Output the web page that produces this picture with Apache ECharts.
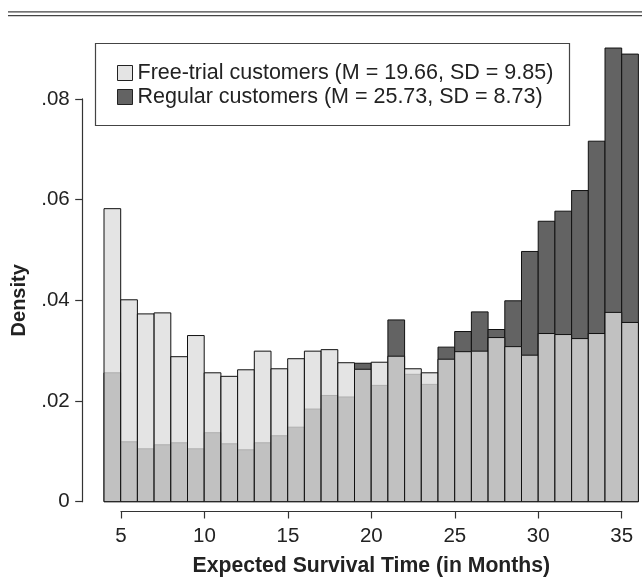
<!DOCTYPE html>
<html>
<head>
<meta charset="utf-8">
<style>
  html, body { margin: 0; padding: 0; background: #fff; }
  #chart { width: 642px; height: 578px; }
</style>
<script src="https://cdn.jsdelivr.net/npm/echarts@6/dist/echarts.min.js"></script>
</head>
<body>
<div id="chart"></div>
<script>
// Histogram bins (width 1 month): left and right edges
const binStart = [4, 5, 6, 7, 8, 9, 10, 11, 12, 13, 14, 15, 16, 17, 18, 19,
                  20, 21, 22, 23, 24, 25, 26, 27, 28, 29, 30, 31, 32, 33, 34, 35];
const binEnd   = [5, 6, 7, 8, 9, 10, 11, 12, 13, 14, 15, 16, 17, 18, 19, 20,
                  21, 22, 23, 24, 25, 26, 27, 28, 29, 30, 31, 32, 33, 34, 35, 36];

// Density per bin
const freeTrial = [0.0582, 0.0401, 0.0373, 0.0375, 0.0288, 0.0330, 0.0256, 0.0249,
                   0.0262, 0.0299, 0.0264, 0.0284, 0.0299, 0.0302, 0.0276, 0.0263,
                   0.0277, 0.0289, 0.0264, 0.0256, 0.0283, 0.0298, 0.0299, 0.0326,
                   0.0308, 0.0291, 0.0334, 0.0332, 0.0324, 0.0334, 0.0376, 0.0356];
const regular   = [0.0256, 0.0119, 0.0105, 0.0113, 0.0117, 0.0105, 0.0137, 0.0115,
                   0.0103, 0.0117, 0.0131, 0.0148, 0.0184, 0.0211, 0.0208, 0.0275,
                   0.0231, 0.0361, 0.0253, 0.0233, 0.0307, 0.0338, 0.0377, 0.0342,
                   0.0399, 0.0497, 0.0557, 0.0577, 0.0618, 0.0716, 0.0901, 0.0889];

const xTicks = [5, 10, 15, 20, 25, 30, 35];
const yTicks = [0, 0.02, 0.04, 0.06, 0.08];

const seriesNames = ['Free-trial customers (M = 19.66, SD = 9.85)',
                     'Regular customers (M = 25.73, SD = 8.73)'];

const FONT = '"Liberation Sans", Arial, Helvetica, sans-serif';
const INK = '#222';

function binData(values) {
  return values.map((v, i) => [binStart[i], binEnd[i], v]);
}

function histRenderer(fill) {
  return function (params, api) {
    const p0 = api.coord([api.value(0), api.value(2)]);
    const p1 = api.coord([api.value(1), 0]);
    return {
      type: 'rect',
      shape: { x: p0[0], y: p0[1], width: p1[0] - p0[0], height: p1[1] - p0[1] },
      style: { fill: fill, stroke: '#111', lineWidth: 1 }
    };
  };
}

const chart = echarts.init(document.getElementById('chart'), null, { renderer: 'canvas' });

chart.setOption({
  animation: false,
  backgroundColor: '#fff',
  textStyle: { fontFamily: FONT, color: INK },
  grid: [
    // plot region for the bars; y axis drawn offset to the left
    { left: 104, right: 3.6, top: 98.9, bottom: 76.3 },
    // separate strip for the x axis, spanning 5..35 only
    { left: 121, right: 20.3, top: 500, bottom: 58.7 }
  ],
  xAxis: [
    { gridIndex: 0, type: 'value', min: 4, max: 36, show: false },
    {
      gridIndex: 1, type: 'value', min: 5, max: 35, interval: 5,
      position: 'bottom',
      axisLine: { show: true, lineStyle: { color: '#333', width: 1.2 } },
      axisTick: { show: true, length: 7.5, lineStyle: { color: '#333', width: 1.2 } },
      axisLabel: { fontSize: 20.5, color: INK, margin: 15, fontFamily: FONT,
                   customValues: xTicks },
      splitLine: { show: false },
      name: 'Expected Survival Time (in Months)',
      nameLocation: 'middle', nameGap: 45,
      nameTextStyle: { fontSize: 21.2, fontWeight: 'bold', color: INK, fontFamily: FONT }
    }
  ],
  yAxis: [
    {
      gridIndex: 0, type: 'value', min: 0, max: 0.08, interval: 0.02,
      position: 'left', offset: 21.3,
      axisLine: { show: true, lineStyle: { color: '#333', width: 1.2 } },
      axisTick: { show: true, length: 7.5, lineStyle: { color: '#333', width: 1.2 } },
      axisLabel: {
        fontSize: 20.5, color: INK, margin: 13, fontFamily: FONT,
        customValues: yTicks,
        formatter: v => (v === 0 ? '0' : v.toFixed(2).replace(/^0/, ''))
      },
      splitLine: { show: false },
      name: 'Density', nameLocation: 'middle', nameGap: 53, nameRotate: 90,
      nameTextStyle: { fontSize: 20, fontWeight: 'bold', color: INK, fontFamily: FONT }
    },
    { gridIndex: 1, type: 'value', show: false }
  ],
  legend: {
    orient: 'vertical',
    left: 112, top: 57,
    itemWidth: 15, itemHeight: 15, itemGap: 2,
    icon: 'rect',
    textStyle: { fontSize: 21.5, color: INK, fontFamily: FONT, lineHeight: 20 },
    data: [
      { name: seriesNames[0], itemStyle: { color: '#e4e4e4', borderColor: '#222', borderWidth: 1 } },
      { name: seriesNames[1], itemStyle: { color: '#636363', borderColor: '#222', borderWidth: 1 } }
    ]
  },
  graphic: [
    // double rule across the top
    { type: 'line', shape: { x1: 8, y1: 11.8, x2: 642, y2: 11.8 }, style: { stroke: '#444', lineWidth: 1.3 } },
    { type: 'line', shape: { x1: 8, y1: 15.6, x2: 642, y2: 15.6 }, style: { stroke: '#444', lineWidth: 1.3 } },
    // legend frame
    { type: 'rect', shape: { x: 95.5, y: 43.5, width: 474, height: 82 },
      style: { fill: 'none', stroke: '#444', lineWidth: 1.2 }, z: 10 }
  ],
  series: [
    {
      name: seriesNames[1], type: 'custom', xAxisIndex: 0, yAxisIndex: 0,
      renderItem: histRenderer('#636363'),
      encode: { x: [0, 1], y: 2 },
      data: binData(regular), z: 2
    },
    {
      name: seriesNames[0], type: 'custom', xAxisIndex: 0, yAxisIndex: 0,
      renderItem: histRenderer('rgba(220,220,220,0.776)'),
      encode: { x: [0, 1], y: 2 },
      data: binData(freeTrial), z: 3
    }
  ]
});
</script>
</body>
</html>
